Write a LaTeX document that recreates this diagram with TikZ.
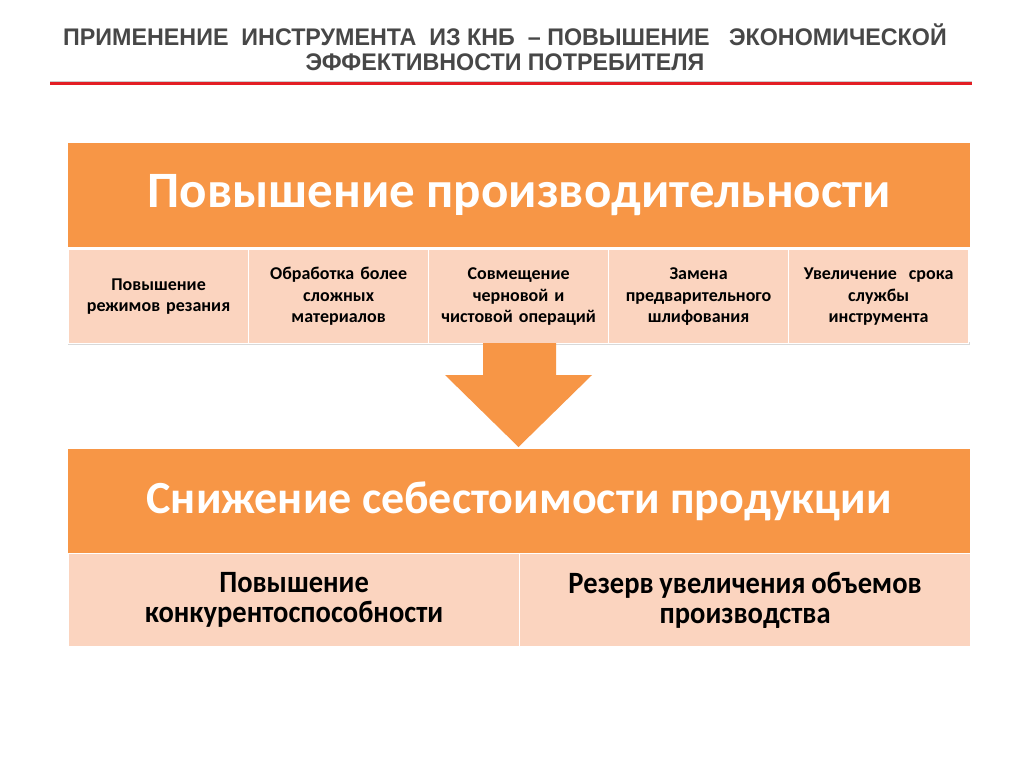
\documentclass[tikz,border=0pt]{standalone}
\usepackage{fontspec}
\setmainfont{Carlito}
\newfontfamily\titlefont[FakeStretch=0.97]{Liberation Sans Bold}
\newfontfamily\narrowfont[FakeStretch=0.92]{Carlito Bold}
\newcommand{\tsp}{\spaceskip=5pt plus 1pt minus 1pt\relax}
\definecolor{orangeA}{HTML}{F79646}
\definecolor{peach}{HTML}{FBD4BF}
\definecolor{titlegray}{HTML}{474747}
\definecolor{redline}{HTML}{E31E24}
\begin{document}
\begin{tikzpicture}[x=1pt,y=-1pt,
  header/.style={fill=orangeA,draw=none,minimum width=902pt,minimum height=104pt,anchor=north west,inner sep=0pt,text=white,font=\bfseries\fontsize{51}{56}\selectfont},
  cell/.style={fill=peach,draw=white,line width=1.2pt,minimum width=180pt,minimum height=94pt,anchor=north west,inner sep=2pt,align=center,text width=174pt,font=\bfseries\fontsize{18}{21.5}\selectfont},
  bigcell/.style={fill=peach,draw=white,line width=1.2pt,minimum width=451pt,minimum height=93pt,anchor=north west,inner sep=2pt,align=center,text width=440pt,font=\narrowfont\fontsize{31}{30}\selectfont},
  ttl/.style={text=titlegray,font=\titlefont\fontsize{24}{27}\selectfont,inner sep=0pt}
]
\useasboundingbox (0,0) rectangle (1024,767);
\fill[white] (0,0) rectangle (1024,767);
% title
\node[ttl] (t1) at (505,35) {ПРИМЕНЕНИЕ \ ИНСТРУМЕНТА \ ИЗ КНБ \ – ПОВЫШЕНИЕ \ \ ЭКОНОМИЧЕСКОЙ};
\node[ttl] (t2) at (505,62) {ЭФФЕКТИВНОСТИ ПОТРЕБИТЕЛЯ};
\coordinate (rl1) at (50,84);
\coordinate (rl2) at (972,84);
\draw[black!20,line width=1.5pt] ([yshift=2pt]rl1) -- ([yshift=2pt]rl2);
\draw[redline,line width=3pt] (rl1) -- (rl2);
% top block
\node[header] (h1) at (68,143) {Повышение производительности};
\fill[black!15] (68,342) rectangle (970,345);
\node[cell] (c1) at (68,249) {Повышение\\режимов резания};
\node[cell] (c2) at (248,249) {Обработка более\\сложных\\материалов};
\node[cell] (c3) at (428,249) {Совмещение\\черновой и\\чистовой операций};
\node[cell] (c4) at (608,249) {Замена\\предварительного\\шлифования};
\node[cell] (c5) at (788,249) {Увеличение \ срока\\службы\\инструмента};
% arrow
\node[header,font=\bfseries\fontsize{46}{50}\selectfont] (h2) at (68,449) {Снижение себестоимости продукции};
\fill[orangeA] (483,343) -- (556,343) -- (556,375) -- (592,375) -- (518.5,447) -- (445,375) -- (483,375) -- cycle;
% bottom block
\fill[black!15] (68,643) rectangle (970,646);
\node[bigcell] (b1) at (68,553) {\tsp Повышение\\конкурентоспособности};
\node[bigcell] (b2) at (519,553) {\tsp Резерв увеличения объемов\\производства};
\end{tikzpicture}
\end{document}
